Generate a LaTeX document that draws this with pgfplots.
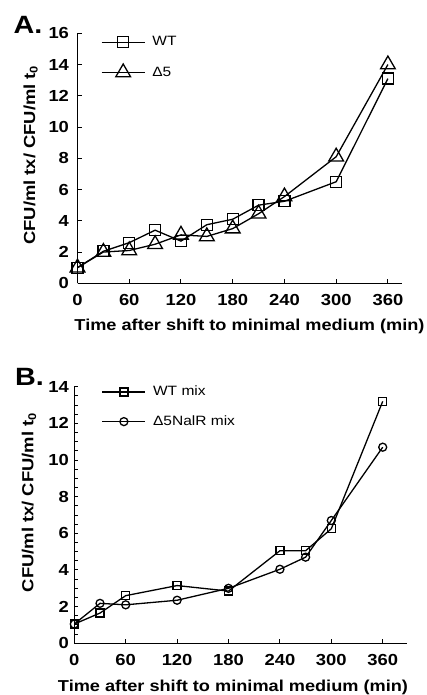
\documentclass[border=0pt]{standalone}
\usepackage{fontspec}
\setmainfont{Liberation Sans}[FakeStretch=1.15]
\usepackage{pgfplots}
\pgfplotsset{compat=1.18}

\newcommand{\legfont}{\fontsize{13.5}{16}\selectfont}

\pgfplotsset{
  panel/.style={
    scale only axis,
    axis x line*=bottom,
    axis y line*=left,
    axis line style={line width=1.3pt,-},
    tick align=inside,
    major tick length=4pt,
    minor tick length=4pt,
    every tick/.style={line width=1pt,black},
    xmin=0,
    xtick={0,60,120,180,240,300,360},
    ymin=0,
    xticklabel={\pgfmathprintnumber[assume math mode=true]{\tick}},
    yticklabel={\pgfmathprintnumber[assume math mode=true]{\tick}},
    ticklabel style={font=\bfseries\fontsize{16}{18}\selectfont},
    xticklabel style={yshift=-7pt},
    label style={font=\bfseries\fontsize{16}{19}\selectfont},
    ylabel style={rotate=0,anchor=base},
    xlabel style={anchor=base},
    legend cell align=left,
    legend style={draw=none,fill=none,inner sep=0pt,anchor=north west,
      nodes={inner sep=0pt,text height=10.5pt,text depth=3pt,font=\legfont},
      row sep=15pt,column sep=7pt},
    legend image code/.code={
      \draw[mark repeat=2,mark phase=2,##1] plot coordinates {(0pt,0pt) (21.5pt,0pt) (43pt,0pt)};},
    every axis plot/.append style={line width=1.3pt,black,mark options={solid,fill=white,line width=1.3pt}},
  }
}

\begin{document}
\begin{tikzpicture}
\useasboundingbox (0,0) rectangle (427pt,-695pt);

% panel A
\node[anchor=base west,font=\bfseries\fontsize{25}{28}\selectfont] at (10pt,-33.3pt) {A.};
\begin{axis}[panel,
  at={(77.5pt,-283.3pt)}, anchor=south west,
  width=324.2pt, height=250pt,
  xmax=376, ymax=16,
  ytick={0,2,...,16},
  yticklabel style={xshift=-5pt},
  xlabel={\fontsize{15.8}{19}\selectfont Time after shift to minimal medium (min)},
  xlabel style={at={(axis description cs:0.5305,-0.1868)}},
  ylabel={CFU/ml tx/ CFU/ml t\textsubscript{0}},
  ylabel style={at={(axis description cs:-0.131,0.513)}},
  legend style={at={(axis description cs:0.072,0.992)}},
]
\addplot[mark=square,mark size=5.5pt] coordinates {
  (0,1.0) (30,2.05) (60,2.6) (90,3.4) (120,2.7) (150,3.75)
  (180,4.1) (210,5.0) (240,5.25) (300,6.5) (360,13.1)
};
\addlegendentry{\legfont WT}
\addplot[mark=triangle,mark size=8.5pt] coordinates {
  (0,1.0) (30,2.0) (60,2.1) (90,2.5) (120,3.1) (150,3.0)
  (180,3.5) (210,4.45) (240,5.55) (300,8.1) (360,14.0)
};
\addlegendentry{\legfont Δ5}
\end{axis}

% panel B
\node[anchor=base west,font=\bfseries\fontsize{25}{28}\selectfont] at (11.7pt,-385pt) {B.};
\begin{axis}[panel,
  at={(74.3pt,-643.3pt)}, anchor=south west,
  width=332.4pt, height=256.6pt,
  xmax=388, ymax=14,
  ytick={0,2,...,14},
  minor y tick num=3,
  yticklabel style={xshift=-2pt},
  xlabel={\fontsize{15.8}{19}\selectfont Time after shift to minimal medium (min)},
  xlabel style={at={(axis description cs:0.4774,-0.1886)}},
  ylabel={CFU/ml tx/ CFU/ml t\textsubscript{0}},
  ylabel style={at={(axis description cs:-0.123,0.549)}},
  legend style={at={(axis description cs:0.082,1.006)},row sep=16pt},
]
\addplot[mark=square,mark size=4pt] coordinates {
  (0,1.05) (30,1.65) (60,2.6) (120,3.15) (180,2.85)
  (240,5.05) (270,5.05) (300,6.25) (360,13.2)
};
\addlegendentry{\legfont WT mix}
\addplot[mark=o,mark size=4pt] coordinates {
  (0,1.05) (30,2.18) (60,2.1) (120,2.35) (180,3.0)
  (240,4.04) (270,4.7) (300,6.7) (360,10.7)
};
\addlegendentry{\legfont Δ5NalR mix}
\end{axis}
\end{tikzpicture}
\end{document}
